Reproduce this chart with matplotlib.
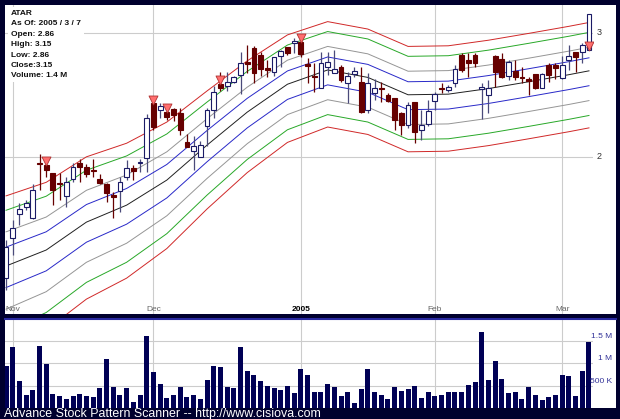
import matplotlib
matplotlib.use('Agg')
import matplotlib.pyplot as plt
import numpy as np
from matplotlib.patches import Rectangle
from matplotlib.lines import Line2D
from matplotlib.transforms import blended_transform_factory

plt.rcParams['font.family'] = ['Liberation Sans', 'DejaVu Sans']

# daily candles, 2004-10-29 .. 2005-03-07 (trading days)
opens = [1.020, 1.342, 1.538, 1.597, 1.504, 1.949, 1.933, 1.866, 1.788, 1.683,
         1.818, 1.952, 1.915, 1.889, 1.818, 1.780, 1.687, 1.726, 1.839, 1.907,
         1.947, 1.987, 2.431, 2.377, 2.363, 2.383, 2.350, 2.121, 2.049, 1.995,
         2.248, 2.377, 2.587, 2.570, 2.605, 2.659, 2.766, 2.874, 2.820, 2.710,
         2.683, 2.810, 2.885, 2.915, 2.925, 2.750, 2.651, 2.552, 2.721, 2.678,
         2.721, 2.597, 2.667, 2.605, 2.377, 2.512, 2.554, 2.498, 2.471, 2.355,
         2.256, 2.444, 2.216, 2.264, 2.452, 2.554, 2.538, 2.592, 2.820, 2.780,
         2.820, 2.544, 2.498, 2.812, 2.786, 2.651, 2.694, 2.645, 2.624, 2.667,
         2.552, 2.740, 2.740, 2.633, 2.780, 2.847, 2.847, 2.86]
highs = [1.329, 1.490, 1.629, 1.651, 1.780, 2.022, 1.974, 1.871, 1.869, 1.839,
         1.947, 1.982, 1.941, 1.982, 1.861, 1.786, 1.718, 1.839, 1.974, 1.933,
         1.979, 2.345, 2.458, 2.431, 2.391, 2.391, 2.391, 2.183, 2.167, 2.129,
         2.391, 2.570, 2.686, 2.686, 2.651, 2.847, 2.901, 2.893, 2.847, 2.780,
         2.807, 2.860, 2.887, 2.955, 2.941, 2.794, 2.754, 2.847, 2.847, 2.860,
         2.740, 2.686, 2.726, 2.721, 2.673, 2.624, 2.605, 2.512, 2.471, 2.361,
         2.444, 2.444, 2.377, 2.458, 2.524, 2.597, 2.579, 2.740, 2.834, 2.834,
         2.834, 2.592, 2.619, 2.820, 2.834, 2.780, 2.780, 2.726, 2.645, 2.667,
         2.673, 2.754, 2.758, 2.812, 2.901, 2.847, 2.915, 3.15]
lows = [0.925, 1.208, 1.449, 1.570, 1.495, 1.732, 1.837, 1.611, 1.651, 1.592,
        1.799, 1.799, 1.839, 1.839, 1.780, 1.637, 1.504, 1.557, 1.812, 1.812,
        1.879, 1.879, 2.216, 2.310, 2.296, 2.291, 2.175, 2.081, 1.893, 1.995,
        2.087, 2.312, 2.533, 2.533, 2.592, 2.506, 2.673, 2.592, 2.651, 2.645,
        2.651, 2.726, 2.820, 2.834, 2.807, 2.592, 2.524, 2.552, 2.659, 2.673,
        2.605, 2.436, 2.645, 2.355, 2.350, 2.458, 2.444, 2.444, 2.216, 2.175,
        2.229, 2.113, 2.135, 2.248, 2.377, 2.516, 2.524, 2.560, 2.686, 2.645,
        2.726, 2.302, 2.350, 2.565, 2.633, 2.619, 2.619, 2.597, 2.498, 2.544,
        2.552, 2.605, 2.624, 2.624, 2.699, 2.686, 2.754, 2.86]
closes = [1.274, 1.423, 1.576, 1.629, 1.732, 1.941, 1.893, 1.732, 1.780, 1.799,
          1.920, 1.915, 1.861, 1.883, 1.791, 1.710, 1.679, 1.799, 1.907, 1.887,
          1.955, 2.310, 2.242, 2.409, 2.323, 2.337, 2.216, 2.081, 2.087, 2.095,
          2.377, 2.524, 2.552, 2.605, 2.645, 2.758, 2.748, 2.678, 2.705, 2.702,
          2.802, 2.855, 2.834, 2.936, 2.829, 2.732, 2.641, 2.754, 2.766, 2.705,
          2.619, 2.651, 2.694, 2.363, 2.597, 2.552, 2.546, 2.452, 2.296, 2.256,
          2.417, 2.202, 2.256, 2.371, 2.506, 2.546, 2.560, 2.705, 2.699, 2.758,
          2.754, 2.565, 2.552, 2.686, 2.645, 2.766, 2.645, 2.633, 2.613, 2.552,
          2.667, 2.659, 2.713, 2.740, 2.812, 2.807, 2.901, 3.15]
# volume in millions
volume = [0.94, 1.36, 0.60, 0.29, 0.40, 1.38, 0.98, 0.31, 0.27, 0.19,
          0.27, 0.31, 0.27, 0.24, 0.44, 1.10, 0.47, 0.30, 0.44, 0.14,
          0.30, 1.61, 0.80, 0.53, 0.23, 0.29, 0.46, 0.25, 0.29, 0.21,
          0.62, 0.93, 0.91, 0.47, 0.45, 1.35, 0.82, 0.73, 0.60, 0.50,
          0.45, 0.40, 0.50, 0.33, 0.87, 0.73, 0.36, 0.35, 0.53, 0.47,
          0.27, 0.35, 0.12, 0.42, 0.87, 0.35, 0.30, 0.21, 0.46, 0.38,
          0.42, 0.49, 0.23, 0.35, 0.27, 0.29, 0.35, 0.35, 0.36, 0.51,
          0.58, 1.70, 0.62, 1.04, 0.64, 0.34, 0.35, 0.19, 0.47, 0.29,
          0.18, 0.24, 0.29, 0.73, 0.72, 0.27, 0.83, 1.46]

signal_days = [6, 22, 24, 32, 44, 87]

# envelope bands: centre line + multiples of band width
band_days = [0, 6, 12, 18, 24, 30, 36, 42, 48, 54, 60, 66, 72, 78, 84, 87]
band_center = [1.119, 1.248, 1.473, 1.610, 1.812, 2.094, 2.360, 2.585,
               2.700, 2.640, 2.500, 2.505, 2.550, 2.605, 2.662, 2.693]
band_width = [1.45, 1.40, 1.35, 1.28, 1.20, 1.12, 1.06, 1.02,
              1.0, 1.0, 1.0, 1.0, 1.0, 1.0, 1.0, 1.0]
band_mult = [0.39, 0.31, 0.19, 0.105, 0.0, -0.12, -0.24, -0.36, -0.46]
band_colors = ['#d02828', '#28a828', '#959595', '#2828c8', '#202020',
               '#2828c8', '#959595', '#28a828', '#d02828']

month_days = [1, 22, 44, 64, 83]
month_labels = ['Nov', 'Dec', '2005', 'Feb', 'Mar']

info = 'ATAR\nAs Of: 2005 / 3 / 7\nOpen: 2.86\nHigh: 3.15\nLow: 2.86\nClose:3.15\nVolume: 1.4 M'

W, H = 620, 419
fig = plt.figure(figsize=(W / 100, H / 100), dpi=100)
fig.patch.set_facecolor('#00002e')


def fx(px):
    return px / W


def fy(py):
    return 1 - py / H


# white panels
fig.add_artist(Rectangle((fx(5), fy(314)), fx(611), 309 / H, transform=fig.transFigure,
                         facecolor='white', edgecolor='none', zorder=-1))
fig.add_artist(Rectangle((fx(5), fy(408)), fx(611), 88 / H, transform=fig.transFigure,
                         facecolor='white', edgecolor='none', zorder=-1))
fig.add_artist(Line2D([fx(5), fx(616)], [fy(319), fy(319)], transform=fig.transFigure,
                      color='#2a2aa0', lw=1.5, zorder=5))

xlim = (-0.15, 87.6)
grid_c = '#cccccc'

# ---- price panel
ax = fig.add_axes([fx(5), fy(314), 588 / W, 309 / H])
ax.set_facecolor('white')
for s in ax.spines.values():
    s.set_visible(False)
ax.set_xlim(*xlim)
ax.set_ylim(0.732, 3.224)
ax.set_xticks([])
ax.set_yticks([])

for d in month_days:
    ax.axvline(d, color=grid_c, lw=0.8, zorder=0)
for p in [2, 3]:
    ax.axhline(p, color=grid_c, lw=0.8, zorder=0)

bc = np.array(band_center)
bw = np.array(band_width)
for k, col in zip(band_mult, band_colors):
    ax.plot(band_days, bc + k * bw, color=col, lw=0.7, zorder=1)

o = np.array(opens)
h = np.array(highs)
l = np.array(lows)
c = np.array(closes)
days = np.arange(len(o))
up = c >= o
ax.vlines(days[up], l[up], h[up], color='#4a4a7a', lw=0.9, zorder=2)
ax.vlines(days[~up], l[~up], h[~up], color='#660000', lw=0.9, zorder=2)
body_lo = np.minimum(o, c)
body_h = np.maximum(np.abs(c - o), 0.012)
ax.bar(days[up], body_h[up], bottom=body_lo[up], width=0.72,
       facecolor='white', edgecolor='#1a1a66', lw=0.8, zorder=3)
ax.bar(days[~up], body_h[~up], bottom=body_lo[~up], width=0.72,
       facecolor='#660000', edgecolor='#660000', lw=0.8, zorder=3)

sig = np.array(signal_days)
ax.scatter(sig, o[sig] + 0.03, marker='v', s=42, facecolor='#ff6f6f',
           edgecolor='#b03030', lw=0.6, zorder=4)

tr = blended_transform_factory(ax.transData, ax.transAxes)
for d, lab in zip(month_days, month_labels):
    if lab == '2005':
        ax.text(d, 0.016, lab, transform=tr, ha='center', va='center',
                fontsize=6, fontweight='bold', color='black')
    else:
        ax.text(d, 0.016, lab, transform=tr, ha='center', va='center',
                fontsize=6, color='#666666')

tr2 = blended_transform_factory(ax.transAxes, ax.transData)
for p in [2, 3]:
    ax.text(1.006, p, str(p), transform=tr2, ha='left', va='center',
            fontsize=6.5, color='#333333')

fig.text(fx(11), fy(10), info, ha='left', va='top', fontsize=6.0,
         fontweight='bold', color='#111111', linespacing=1.68,
         bbox=dict(facecolor='white', edgecolor='none', pad=2))

# ---- volume panel
axv = fig.add_axes([fx(5), fy(408), 588 / W, 89 / H])
axv.set_facecolor('white')
for s in axv.spines.values():
    s.set_visible(False)
axv.set_xlim(*xlim)
axv.set_ylim(0, 1.978)
axv.set_xticks([])
axv.set_yticks([])
for d in month_days:
    axv.axvline(d, color=grid_c, lw=0.8, zorder=0)
vol_ticks = [0.5, 1.0, 1.5]
vol_labels = ['500 K', '1 M', '1.5 M']
for v in vol_ticks:
    axv.axhline(v, color=grid_c, lw=0.8, zorder=0)
axv.bar(days, volume, width=0.75, color='#000055', zorder=2)
tr3 = blended_transform_factory(axv.transAxes, axv.transData)
for v, lab in zip(vol_ticks, vol_labels):
    axv.text(1.032, v + 0.02, lab, transform=tr3, ha='right', va='bottom',
             fontsize=6, color='#333399')

fig.text(fx(4), fy(413.5), 'Advance Stock Pattern Scanner -- http://www.cisiova.com',
         ha='left', va='center', fontsize=8.9, color='white')

fig.savefig('out.png', dpi=100, facecolor=fig.get_facecolor())
